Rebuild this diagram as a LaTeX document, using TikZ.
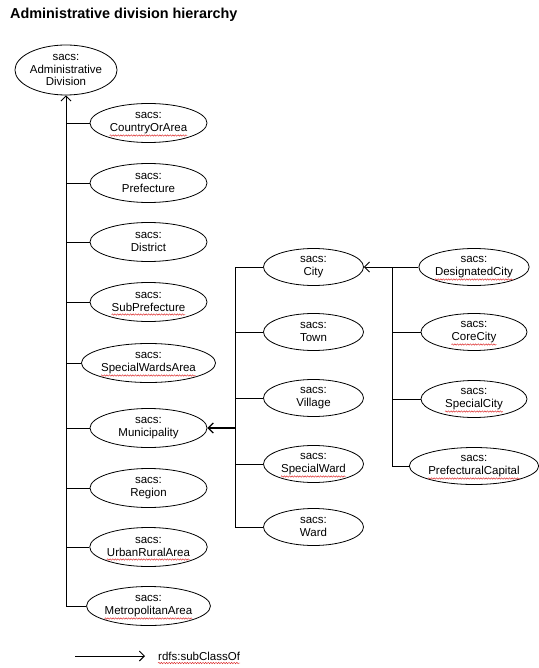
\documentclass[tikz,border=0pt]{standalone}
\usepackage{fontspec}
\setmainfont{Liberation Sans}
\usetikzlibrary{shapes.geometric,arrows.meta,decorations.pathmorphing}
\definecolor{spellred}{RGB}{220,40,40}
\newcommand\wavy[2]{%
  \node[inner sep=0pt, anchor=base, font=\fontsize{11.5}{12.5}\selectfont]
    (#1w) at ([yshift=-9.6pt]#1.center) {\phantom{#2}};%
  \draw[spell] ([yshift=-2.9pt]#1w.base west) -- ([yshift=-2.9pt]#1w.base east);%
}
\begin{document}
\begin{tikzpicture}[x=1pt,y=-1pt,
  cls/.style={ellipse, draw, line width=0.8pt, inner sep=0pt, align=center,
    font=\fontsize{11.5}{12.5}\selectfont},
  lcol/.style={cls, minimum width=117pt, minimum height=39pt},
  mcol/.style={cls, minimum width=100pt, minimum height=37pt},
  rcol/.style={cls, minimum width=106pt, minimum height=37pt},
  link/.style={line width=0.8pt},
  spell/.style={spellred, line width=0.45pt, decorate,
    decoration={snake, amplitude=0.7pt, segment length=2.6pt}},
  subarr/.style={line width=0.8pt, -{Straight Barb[length=5pt,width=10pt,line width=0.9pt]}},
  thickarr/.style={line width=1.8pt, -{Straight Barb[length=5pt,width=10pt,line width=1.3pt]}}
]
\fill[white] (0,0) rectangle (538,668);
\useasboundingbox (0,0) rectangle (538,668);

\node[anchor=west, font=\fontsize{14.4}{16}\selectfont\bfseries, inner sep=0pt] (title) at (10,15) {Administrative division hierarchy};

% root
\node[cls, minimum width=101pt, minimum height=50pt] (admin) at (66,70) {sacs:\\Administrative\\Division};

% left column
\node[lcol] (country) at (148.5,123) {sacs:\\CountryOrArea};
\node[lcol] (pref)    at (148.5,183) {sacs:\\Prefecture};
\node[lcol] (dist)    at (148.5,242) {sacs:\\District};
\node[lcol] (subpref) at (148.5,302) {sacs:\\SubPrefecture};
\node[lcol] (swa)     at (148.5,363) {sacs:\\SpecialWardsArea};
\node[lcol] (muni)    at (148.5,428) {sacs:\\Municipality};
\node[lcol] (region)  at (148.5,488) {sacs:\\Region};
\node[lcol] (urban)   at (148.5,547) {sacs:\\UrbanRuralArea};
\node[lcol] (metro)   at (148.5,606) {sacs:\\MetropolitanArea};

% middle column
\node[mcol] (city)    at (313.5,267) {sacs:\\City};
\node[mcol] (town)    at (313.5,332) {sacs:\\Town};
\node[mcol] (village) at (313.5,398) {sacs:\\Village};
\node[mcol] (sward)   at (313.5,464) {sacs:\\SpecialWard};
\node[mcol] (ward)    at (313.5,527) {sacs:\\Ward};

% right column
\node[rcol] (desig)   at (474,267) {sacs:\\DesignatedCity};
\node[rcol] (core)    at (474,332) {sacs:\\CoreCity};
\node[rcol] (spcity)  at (474,399) {sacs:\\SpecialCity};
\node[rcol] (pcap)    at (474,466) {sacs:\\PrefecturalCapital};

% spell-check underlines
\wavy{country}{CountryOrArea}
\wavy{subpref}{SubPrefecture}
\wavy{swa}{SpecialWardsArea}
\wavy{urban}{UrbanRuralArea}
\wavy{metro}{MetropolitanArea}
\wavy{sward}{SpecialWard}
\wavy{desig}{DesignatedCity}
\wavy{core}{CoreCity}
\wavy{spcity}{SpecialCity}
\wavy{pcap}{PrefecturalCapital}

% trunk coordinates
\coordinate (ltrunk) at (66,606);
\coordinate (mtop) at (235,267);
\coordinate (mbot) at (235,527);
\coordinate (mmid) at (235,428);
\coordinate (rtop) at (392,267);
\coordinate (rbot) at (392,466);

% left trunk
\draw[subarr] (ltrunk) -- (admin.south);
\foreach \n in {country,pref,dist,subpref,swa,muni,region,urban,metro}
  \draw[link] (admin.south |- \n.west) -- (\n.west);

% middle trunk
\draw[link] (mtop) -- (mbot);
\foreach \n in {city,town,village,sward,ward}
  \draw[link] (mtop |- \n.west) -- (\n.west);
\draw[thickarr] (mmid) -- (muni.east);

% right trunk
\draw[link] (rtop) -- (rbot);
\foreach \n in {core,spcity,pcap}
  \draw[link] (rtop |- \n.west) -- (\n.west);
\draw[subarr] (desig.west) -- (city.east);

% legend
\coordinate (lgstart) at (75,656);
\node[anchor=west, inner sep=0pt, font=\fontsize{11.5}{12.5}\selectfont] (lgtext) at (158,656) {rdfs:subClassOf};
\draw[spell] ([yshift=-2.9pt]lgtext.base west) -- ([yshift=-2.9pt]lgtext.base east);
\coordinate (lgend) at (145,656);
\draw[subarr] (lgstart) -- (lgend);
\end{tikzpicture}
\end{document}
